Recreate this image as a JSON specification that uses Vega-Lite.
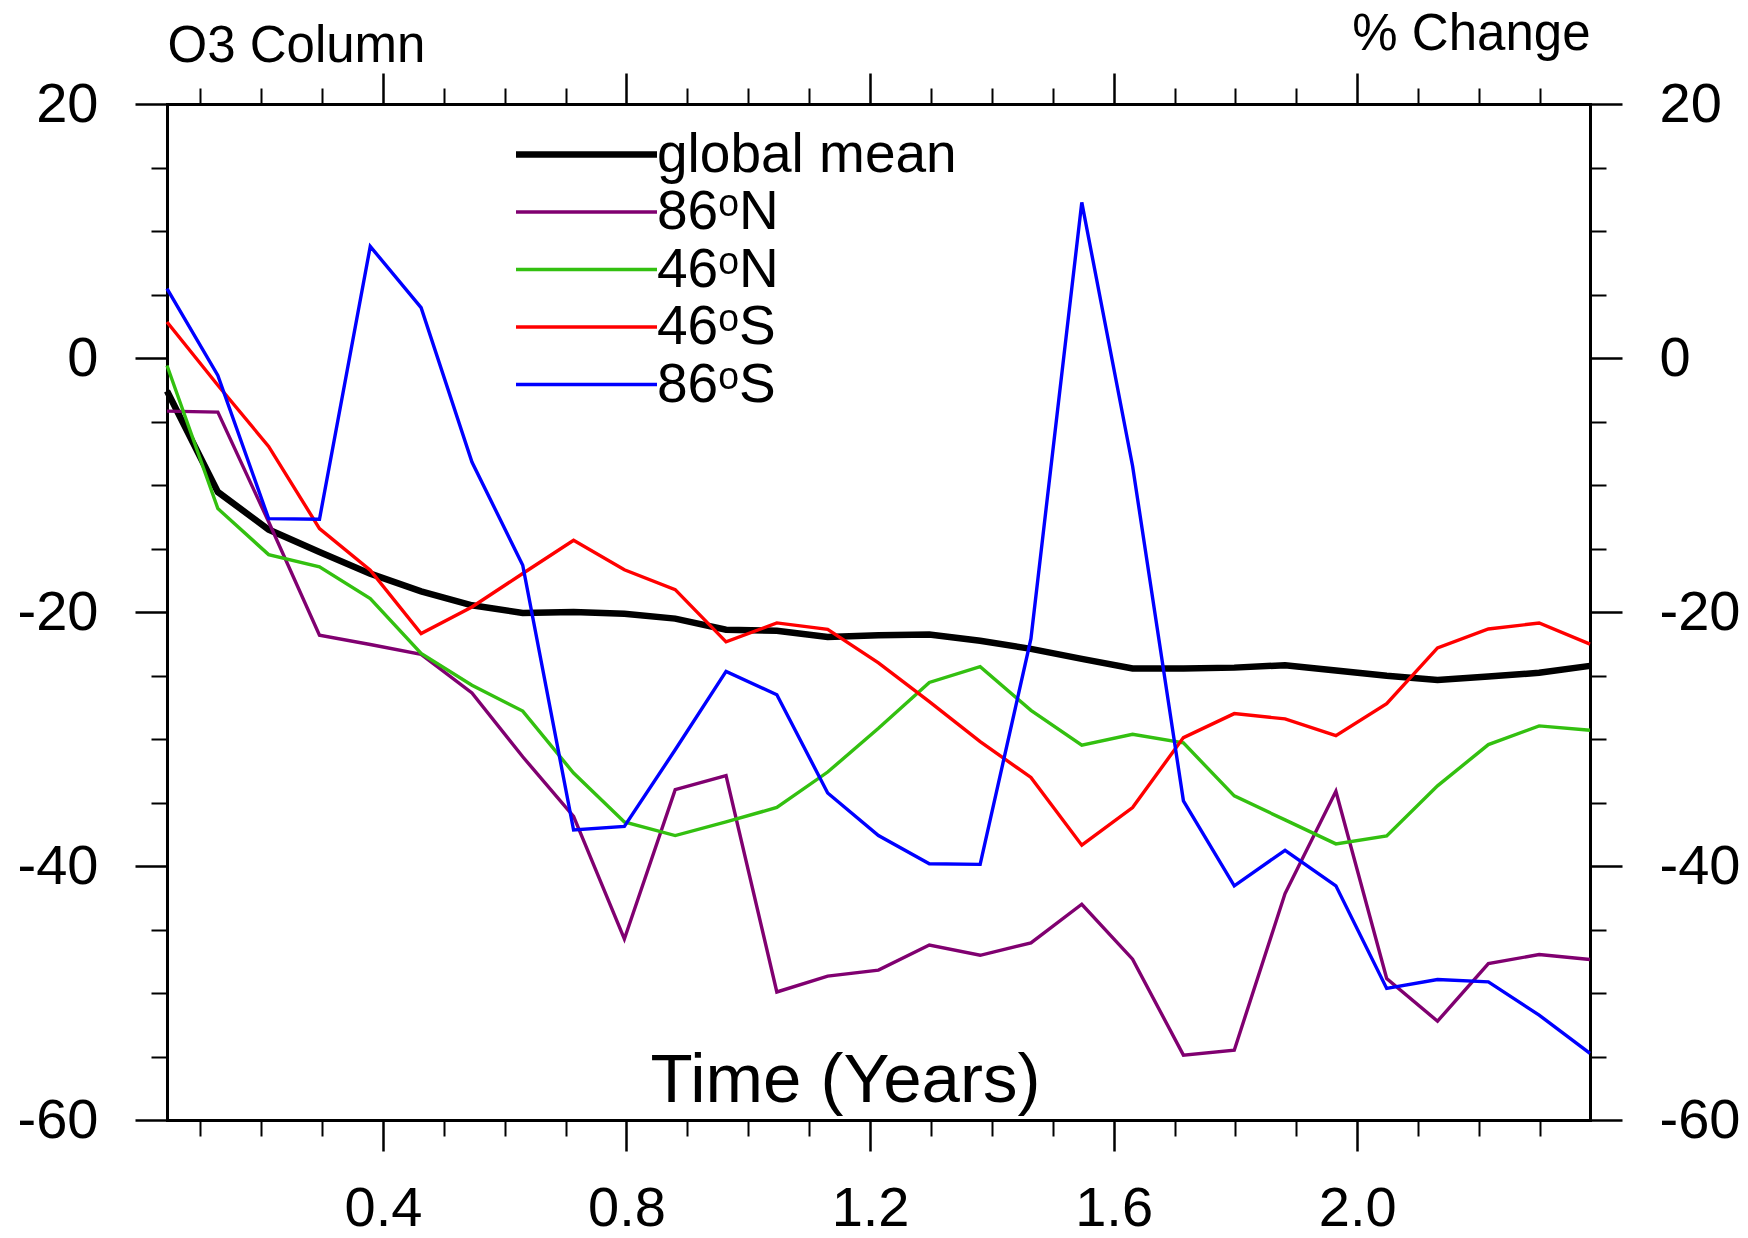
{
  "$schema": "https://vega.github.io/schema/vega-lite/v6.json",
  "width": 1423,
  "height": 1016,
  "autosize": {"type": "none"},
  "padding": {"left": 167, "top": 104, "right": 158, "bottom": 118},
  "background": "white",
  "config": {
    "view": {"stroke": null},
    "axis": {"labelFont": "Liberation Sans", "titleFont": "Liberation Sans", "labelColor": "black", "tickColor": "black", "domainColor": "black", "titleColor": "black", "grid": false, "labelFontWeight": "normal", "titleFontWeight": "normal", "labelFlush": false, "labelOverlap": false, "domainCap": "square"},
    "legend": {"orient": "none", "legendX": 392, "legendY": 23, "symbolType": "M-3.525,0H3.525", "symbolSize": 1600, "labelFontSize": 55, "labelFont": "Liberation Sans", "labelColor": "black", "labelOffset": 43, "rowPadding": 1.5, "padding": 0, "labelLimit": 0}
  },
  "data": {"values": [
    {"series":"global mean","t":0.0454,"pct":-2.6},{"series":"global mean","t":0.1289,"pct":-10.55},{"series":"global mean","t":0.2123,"pct":-13.51},{"series":"global mean","t":0.2958,"pct":-15.27},{"series":"global mean","t":0.3792,"pct":-16.98},{"series":"global mean","t":0.4627,"pct":-18.37},{"series":"global mean","t":0.5462,"pct":-19.47},{"series":"global mean","t":0.6296,"pct":-20.07},{"series":"global mean","t":0.7131,"pct":-20.0},{"series":"global mean","t":0.7965,"pct":-20.14},{"series":"global mean","t":0.88,"pct":-20.52},{"series":"global mean","t":0.9635,"pct":-21.39},{"series":"global mean","t":1.0469,"pct":-21.48},{"series":"global mean","t":1.1304,"pct":-21.97},{"series":"global mean","t":1.2138,"pct":-21.83},{"series":"global mean","t":1.2973,"pct":-21.77},{"series":"global mean","t":1.3808,"pct":-22.26},{"series":"global mean","t":1.4642,"pct":-22.9},{"series":"global mean","t":1.5477,"pct":-23.69},{"series":"global mean","t":1.6311,"pct":-24.44},{"series":"global mean","t":1.7146,"pct":-24.44},{"series":"global mean","t":1.7981,"pct":-24.38},{"series":"global mean","t":1.8815,"pct":-24.19},{"series":"global mean","t":1.965,"pct":-24.6},{"series":"global mean","t":2.0484,"pct":-25.02},{"series":"global mean","t":2.1319,"pct":-25.35},{"series":"global mean","t":2.2154,"pct":-25.07},{"series":"global mean","t":2.2988,"pct":-24.79},{"series":"global mean","t":2.3823,"pct":-24.24},
    {"series":"86ᵒN","t":0.0454,"pct":-4.18},{"series":"86ᵒN","t":0.1289,"pct":-4.26},{"series":"86ᵒN","t":0.2123,"pct":-12.9},{"series":"86ᵒN","t":0.2958,"pct":-21.83},{"series":"86ᵒN","t":0.3792,"pct":-22.56},{"series":"86ᵒN","t":0.4627,"pct":-23.33},{"series":"86ᵒN","t":0.5462,"pct":-26.37},{"series":"86ᵒN","t":0.6296,"pct":-31.4},{"series":"86ᵒN","t":0.7131,"pct":-36.09},{"series":"86ᵒN","t":0.7965,"pct":-45.75},{"series":"86ᵒN","t":0.88,"pct":-33.99},{"series":"86ᵒN","t":0.9635,"pct":-32.89},{"series":"86ᵒN","t":1.0469,"pct":-49.92},{"series":"86ᵒN","t":1.1304,"pct":-48.67},{"series":"86ᵒN","t":1.2138,"pct":-48.2},{"series":"86ᵒN","t":1.2973,"pct":-46.22},{"series":"86ᵒN","t":1.3808,"pct":-47.03},{"series":"86ᵒN","t":1.4642,"pct":-46.05},{"series":"86ᵒN","t":1.5477,"pct":-43.01},{"series":"86ᵒN","t":1.6311,"pct":-47.34},{"series":"86ᵒN","t":1.7146,"pct":-54.89},{"series":"86ᵒN","t":1.7981,"pct":-54.5},{"series":"86ᵒN","t":1.8815,"pct":-42.17},{"series":"86ᵒN","t":1.965,"pct":-34.11},{"series":"86ᵒN","t":2.0484,"pct":-48.86},{"series":"86ᵒN","t":2.1319,"pct":-52.22},{"series":"86ᵒN","t":2.2154,"pct":-47.68},{"series":"86ᵒN","t":2.2988,"pct":-46.97},{"series":"86ᵒN","t":2.3823,"pct":-47.36},
    {"series":"46ᵒN","t":0.0454,"pct":-0.59},{"series":"46ᵒN","t":0.1289,"pct":-11.86},{"series":"46ᵒN","t":0.2123,"pct":-15.48},{"series":"46ᵒN","t":0.2958,"pct":-16.45},{"series":"46ᵒN","t":0.3792,"pct":-18.95},{"series":"46ᵒN","t":0.4627,"pct":-23.27},{"series":"46ᵒN","t":0.5462,"pct":-25.77},{"series":"46ᵒN","t":0.6296,"pct":-27.8},{"series":"46ᵒN","t":0.7131,"pct":-32.68},{"series":"46ᵒN","t":0.7965,"pct":-36.53},{"series":"46ᵒN","t":0.88,"pct":-37.6},{"series":"46ᵒN","t":0.9635,"pct":-36.53},{"series":"46ᵒN","t":1.0469,"pct":-35.39},{"series":"46ᵒN","t":1.1304,"pct":-32.6},{"series":"46ᵒN","t":1.2138,"pct":-29.16},{"series":"46ᵒN","t":1.2973,"pct":-25.55},{"series":"46ᵒN","t":1.3808,"pct":-24.3},{"series":"46ᵒN","t":1.4642,"pct":-27.74},{"series":"46ᵒN","t":1.5477,"pct":-30.49},{"series":"46ᵒN","t":1.6311,"pct":-29.63},{"series":"46ᵒN","t":1.7146,"pct":-30.31},{"series":"46ᵒN","t":1.7981,"pct":-34.48},{"series":"46ᵒN","t":1.8815,"pct":-36.37},{"series":"46ᵒN","t":1.965,"pct":-38.26},{"series":"46ᵒN","t":2.0484,"pct":-37.63},{"series":"46ᵒN","t":2.1319,"pct":-33.69},{"series":"46ᵒN","t":2.2154,"pct":-30.44},{"series":"46ᵒN","t":2.2988,"pct":-28.97},{"series":"46ᵒN","t":2.3823,"pct":-29.31},
    {"series":"46ᵒS","t":0.0454,"pct":2.83},{"series":"46ᵒS","t":0.1289,"pct":-2.15},{"series":"46ᵒS","t":0.2123,"pct":-6.96},{"series":"46ᵒS","t":0.2958,"pct":-13.43},{"series":"46ᵒS","t":0.3792,"pct":-16.71},{"series":"46ᵒS","t":0.4627,"pct":-21.7},{"series":"46ᵒS","t":0.5462,"pct":-19.6},{"series":"46ᵒS","t":0.6296,"pct":-16.97},{"series":"46ᵒS","t":0.7131,"pct":-14.35},{"series":"46ᵒS","t":0.7965,"pct":-16.67},{"series":"46ᵒS","t":0.88,"pct":-18.24},{"series":"46ᵒS","t":0.9635,"pct":-22.35},{"series":"46ᵒS","t":1.0469,"pct":-20.86},{"series":"46ᵒS","t":1.1304,"pct":-21.36},{"series":"46ᵒS","t":1.2138,"pct":-24.01},{"series":"46ᵒS","t":1.2973,"pct":-27.06},{"series":"46ᵒS","t":1.3808,"pct":-30.21},{"series":"46ᵒS","t":1.4642,"pct":-33.03},{"series":"46ᵒS","t":1.5477,"pct":-38.36},{"series":"46ᵒS","t":1.6311,"pct":-35.4},{"series":"46ᵒS","t":1.7146,"pct":-29.89},{"series":"46ᵒS","t":1.7981,"pct":-28.0},{"series":"46ᵒS","t":1.8815,"pct":-28.42},{"series":"46ᵒS","t":1.965,"pct":-29.73},{"series":"46ᵒS","t":2.0484,"pct":-27.21},{"series":"46ᵒS","t":2.1319,"pct":-22.83},{"series":"46ᵒS","t":2.2154,"pct":-21.34},{"series":"46ᵒS","t":2.2988,"pct":-20.87},{"series":"46ᵒS","t":2.3823,"pct":-22.53},
    {"series":"86ᵒS","t":0.0454,"pct":5.46},{"series":"86ᵒS","t":0.1289,"pct":-1.37},{"series":"86ᵒS","t":0.2123,"pct":-12.65},{"series":"86ᵒS","t":0.2958,"pct":-12.7},{"series":"86ᵒS","t":0.3792,"pct":8.79},{"series":"86ᵒS","t":0.4627,"pct":3.96},{"series":"86ᵒS","t":0.5462,"pct":-8.19},{"series":"86ᵒS","t":0.6296,"pct":-16.32},{"series":"86ᵒS","t":0.7131,"pct":-37.17},{"series":"86ᵒS","t":0.7965,"pct":-36.88},{"series":"86ᵒS","t":0.88,"pct":-30.85},{"series":"86ᵒS","t":0.9635,"pct":-24.68},{"series":"86ᵒS","t":1.0469,"pct":-26.51},{"series":"86ᵒS","t":1.1304,"pct":-34.25},{"series":"86ᵒS","t":1.2138,"pct":-37.6},{"series":"86ᵒS","t":1.2973,"pct":-39.82},{"series":"86ᵒS","t":1.3808,"pct":-39.87},{"series":"86ᵒS","t":1.4642,"pct":-22.1},{"series":"86ᵒS","t":1.5477,"pct":12.25},{"series":"86ᵒS","t":1.6311,"pct":-8.5},{"series":"86ᵒS","t":1.7146,"pct":-34.87},{"series":"86ᵒS","t":1.7981,"pct":-41.56},{"series":"86ᵒS","t":1.8815,"pct":-38.76},{"series":"86ᵒS","t":1.965,"pct":-41.56},{"series":"86ᵒS","t":2.0484,"pct":-49.64},{"series":"86ᵒS","t":2.1319,"pct":-48.94},{"series":"86ᵒS","t":2.2154,"pct":-49.12},{"series":"86ᵒS","t":2.2988,"pct":-51.74},{"series":"86ᵒS","t":2.3823,"pct":-54.76}
  ]},
  "layer": [
    {
      "mark": {"type": "line", "strokeJoin": "miter"},
      "encoding": {
        "x": {"field": "t", "type": "quantitative", "scale": {"domain": [0.0454, 2.3823], "nice": false, "zero": false},
          "axis": {"orient": "bottom", "values": [0.4, 0.8, 1.2, 1.6, 2.0], "format": ".1f", "tickSize": 31, "tickWidth": 2.5, "domainWidth": 3, "labelFontSize": 56, "labelPadding": 30, "title": "Time (Years)", "titleFontSize": 69, "titleX": 678, "titleY": -19, "titleAlign": "center", "titleBaseline": "alphabetic"}},
        "y": {"field": "pct", "type": "quantitative", "scale": {"domain": [-60, 20], "nice": false, "zero": false},
          "axis": {"orient": "left", "values": [-60, -40, -20, 0, 20], "labelExpr": "'' + datum.value", "tickSize": 32, "tickWidth": 2.5, "domainWidth": 3, "labelFontSize": 56, "labelPadding": 37, "title": null}},
        "color": {"field": "series", "type": "nominal", "scale": {"domain": ["global mean", "86ᵒN", "46ᵒN", "46ᵒS", "86ᵒS"], "range": ["#000000", "#800070", "#33c010", "#ff0000", "#0000ff"]}, "legend": {"title": null}},
        "strokeWidth": {"field": "series", "type": "nominal", "scale": {"type": "ordinal", "domain": ["global mean", "86ᵒN", "46ᵒN", "46ᵒS", "86ᵒS"], "range": [6.5, 3.4, 3.4, 3.4, 3.4]}, "legend": {"title": null}}
      }
    },
    {
      "mark": {"type": "point", "opacity": 0},
      "encoding": {
        "x": {"field": "t", "type": "quantitative", "axis": {"orient": "bottom", "values": [0.1, 0.2, 0.3, 0.5, 0.6, 0.7, 0.9, 1.0, 1.1, 1.3, 1.4, 1.5, 1.7, 1.8, 1.9, 2.1, 2.2, 2.3], "tickSize": 16, "tickWidth": 2, "labels": false, "domain": false, "title": null}},
        "y": {"field": "pct", "type": "quantitative", "axis": {"orient": "left", "values": [-55, -50, -45, -35, -30, -25, -15, -10, -5, 5, 10, 15], "tickSize": 16, "tickWidth": 2, "labels": false, "domain": false, "title": null}}
      }
    },
    {
      "mark": {"type": "point", "opacity": 0},
      "encoding": {
        "x": {"field": "t", "type": "quantitative", "axis": {"orient": "top", "values": [0.4, 0.8, 1.2, 1.6, 2.0], "tickSize": 31, "tickWidth": 2.5, "domainWidth": 3, "labels": false, "title": "% Change", "titleFontSize": 51, "titleX": 1423, "titleY": -55, "titleAlign": "right", "titleBaseline": "alphabetic"}},
        "y": {"field": "pct", "type": "quantitative", "axis": {"orient": "right", "values": [-60, -40, -20, 0, 20], "labelExpr": "'' + datum.value", "tickSize": 32, "tickWidth": 2.5, "domainWidth": 3, "labelFontSize": 56, "labelPadding": 37, "title": null}}
      }
    },
    {
      "mark": {"type": "point", "opacity": 0},
      "encoding": {
        "x": {"field": "t", "type": "quantitative", "axis": {"orient": "top", "values": [0.1, 0.2, 0.3, 0.5, 0.6, 0.7, 0.9, 1.0, 1.1, 1.3, 1.4, 1.5, 1.7, 1.8, 1.9, 2.1, 2.2, 2.3], "tickSize": 16, "tickWidth": 2, "labels": false, "domain": false, "title": "O3 Column", "titleFontSize": 51, "titleX": 0, "titleY": -43, "titleAlign": "left", "titleBaseline": "alphabetic"}},
        "y": {"field": "pct", "type": "quantitative", "axis": {"orient": "right", "values": [-55, -50, -45, -35, -30, -25, -15, -10, -5, 5, 10, 15], "tickSize": 16, "tickWidth": 2, "labels": false, "domain": false, "title": null}}
      }
    }
  ],
  "resolve": {"axis": {"x": "independent", "y": "independent"}}
}
